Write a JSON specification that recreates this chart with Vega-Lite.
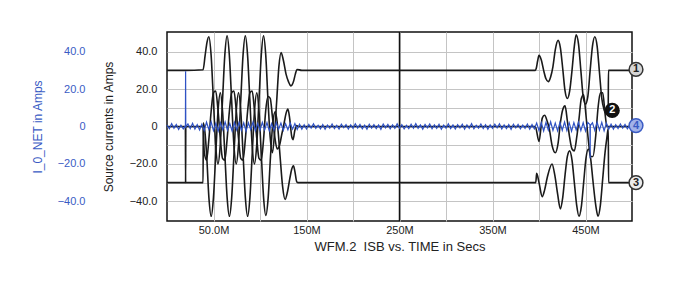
{
  "$schema": "https://vega.github.io/schema/vega-lite/v6.json",
  "width": 465,
  "height": 189,
  "autosize": {"type": "none"},
  "padding": {"left": 167, "top": 32, "right": 68, "bottom": 64},
  "background": "white",
  "config": {
    "view": {"stroke": "#111111", "strokeWidth": 1.5},
    "font": "Liberation Sans"
  },
  "datasets": {
    "vline": [{"t": 250}],
    "src": [
      {"s":"A","t":0,"v":30},{"s":"A","t":19.8,"v":30},{"s":"A","t":38.8,"v":30.3},{"s":"A","t":41,"v":38},{"s":"A","t":43,"v":45},{"s":"A","t":45,"v":48},
      {"s":"A","t":47.45,"v":38},{"s":"A","t":49.9,"v":14},{"s":"A","t":52.35,"v":-10},{"s":"A","t":54.8,"v":-20},{"s":"A","t":57.25,"v":-10},{"s":"A","t":59.7,"v":14},{"s":"A","t":62.15,"v":38},{"s":"A","t":64.6,"v":48.5},
      {"s":"A","t":67.05,"v":38},{"s":"A","t":69.5,"v":14},{"s":"A","t":71.95,"v":-10},{"s":"A","t":74.4,"v":-20},{"s":"A","t":76.85,"v":-10},{"s":"A","t":79.3,"v":14},{"s":"A","t":81.75,"v":38},{"s":"A","t":84.2,"v":48.5},
      {"s":"A","t":86.65,"v":38},{"s":"A","t":89.1,"v":14},{"s":"A","t":91.55,"v":-10},{"s":"A","t":94,"v":-20},{"s":"A","t":96.45,"v":-10},{"s":"A","t":98.9,"v":14},{"s":"A","t":101.35,"v":38},{"s":"A","t":103.8,"v":48.5},
      {"s":"A","t":106.2,"v":38},{"s":"A","t":108.6,"v":14},{"s":"A","t":111,"v":-6},{"s":"A","t":113.3,"v":-14},{"s":"A","t":115.6,"v":-4},{"s":"A","t":118,"v":14},{"s":"A","t":120.3,"v":32},{"s":"A","t":122.7,"v":39.5},
      {"s":"A","t":125.3,"v":35},{"s":"A","t":128,"v":28},{"s":"A","t":130.6,"v":24},{"s":"A","t":133.3,"v":21.7},{"s":"A","t":136,"v":24},{"s":"A","t":138,"v":28},{"s":"A","t":139.7,"v":30.5},{"s":"A","t":145,"v":30},{"s":"A","t":250,"v":30},
      {"s":"A","t":396,"v":30},{"s":"A","t":397,"v":31},{"s":"A","t":398.5,"v":35},{"s":"A","t":400,"v":38},{"s":"A","t":402.5,"v":35.5},{"s":"A","t":405,"v":30},{"s":"A","t":407.5,"v":25.5},{"s":"A","t":410,"v":24},
      {"s":"A","t":412.5,"v":26.5},{"s":"A","t":415,"v":32},{"s":"A","t":417.5,"v":41},{"s":"A","t":420.5,"v":46},{"s":"A","t":423,"v":42},{"s":"A","t":425.5,"v":31},{"s":"A","t":428,"v":19},{"s":"A","t":430.5,"v":15},
      {"s":"A","t":433,"v":19},{"s":"A","t":435.5,"v":30},{"s":"A","t":438,"v":43},{"s":"A","t":440,"v":49},{"s":"A","t":442.5,"v":44},{"s":"A","t":445,"v":30},{"s":"A","t":447.5,"v":16},{"s":"A","t":450,"v":12},
      {"s":"A","t":452.5,"v":16},{"s":"A","t":455,"v":30},{"s":"A","t":457.5,"v":43},{"s":"A","t":460,"v":48},{"s":"A","t":462.5,"v":43},{"s":"A","t":465,"v":29},{"s":"A","t":467.5,"v":15},{"s":"A","t":470,"v":9},
      {"s":"A","t":472.5,"v":7},{"s":"A","t":474.4,"v":8},{"s":"A","t":474.7,"v":30},{"s":"A","t":500,"v":30},

      {"s":"B","t":0,"v":0},{"s":"B","t":19.8,"v":0},{"s":"B","t":20,"v":-30},{"s":"B","t":20.2,"v":0},{"s":"B","t":38.8,"v":0},{"s":"B","t":40.1,"v":-14},{"s":"B","t":42.55,"v":-18},{"s":"B","t":45,"v":-7},
      {"s":"B","t":47.45,"v":8},{"s":"B","t":49.9,"v":18},{"s":"B","t":52.35,"v":19},{"s":"B","t":54.8,"v":9},{"s":"B","t":57.25,"v":-6},{"s":"B","t":59.7,"v":-17},{"s":"B","t":62.15,"v":-18},{"s":"B","t":64.6,"v":-7},
      {"s":"B","t":67.05,"v":8},{"s":"B","t":69.5,"v":18},{"s":"B","t":71.95,"v":19},{"s":"B","t":74.4,"v":9},{"s":"B","t":76.85,"v":-6},{"s":"B","t":79.3,"v":-17},{"s":"B","t":81.75,"v":-18},{"s":"B","t":84.2,"v":-7},
      {"s":"B","t":86.65,"v":8},{"s":"B","t":89.1,"v":18},{"s":"B","t":91.55,"v":19},{"s":"B","t":94,"v":9},{"s":"B","t":96.45,"v":-6},{"s":"B","t":98.9,"v":-17},{"s":"B","t":101.35,"v":-18},{"s":"B","t":103.8,"v":-7},
      {"s":"B","t":106.05,"v":8},{"s":"B","t":108.5,"v":16},{"s":"B","t":111,"v":15},{"s":"B","t":113.4,"v":5},{"s":"B","t":116,"v":-6},{"s":"B","t":118.5,"v":-12},{"s":"B","t":121,"v":-10},{"s":"B","t":123.5,"v":-4},
      {"s":"B","t":126,"v":2},{"s":"B","t":128,"v":7},{"s":"B","t":130,"v":9.3},{"s":"B","t":132,"v":4},{"s":"B","t":134,"v":-5},{"s":"B","t":135.5,"v":-7},{"s":"B","t":137.5,"v":-2},{"s":"B","t":139.5,"v":0.5},{"s":"B","t":141,"v":0},
      {"s":"B","t":396,"v":0},{"s":"B","t":400,"v":-8},{"s":"B","t":403.5,"v":4.5},{"s":"B","t":406,"v":6},{"s":"B","t":409,"v":2.5},{"s":"B","t":411,"v":-1},{"s":"B","t":414,"v":-10},{"s":"B","t":417.5,"v":-14},
      {"s":"B","t":420.5,"v":-9},{"s":"B","t":423,"v":2},{"s":"B","t":425.5,"v":9},{"s":"B","t":428,"v":11},{"s":"B","t":430.5,"v":3},{"s":"B","t":433,"v":-6},{"s":"B","t":435.5,"v":-12},{"s":"B","t":438,"v":-13},
      {"s":"B","t":440.5,"v":-6},{"s":"B","t":443,"v":4},{"s":"B","t":445.5,"v":15},{"s":"B","t":448,"v":17},{"s":"B","t":450.5,"v":6},{"s":"B","t":453,"v":-7},{"s":"B","t":455.5,"v":-16},{"s":"B","t":458,"v":-16},
      {"s":"B","t":461,"v":-5},{"s":"B","t":463.5,"v":10},{"s":"B","t":466,"v":18},{"s":"B","t":468.5,"v":18},{"s":"B","t":471,"v":7},{"s":"B","t":473,"v":0},{"s":"B","t":474.8,"v":0},{"s":"B","t":500,"v":0},

      {"s":"C","t":0,"v":-30},{"s":"C","t":38.8,"v":-30},{"s":"C","t":39,"v":2},{"s":"C","t":40.8,"v":-3},{"s":"C","t":42.6,"v":-15},{"s":"C","t":45.05,"v":-38},{"s":"C","t":47.5,"v":-48},
      {"s":"C","t":49.95,"v":-38},{"s":"C","t":52.4,"v":-15},{"s":"C","t":54.85,"v":8},{"s":"C","t":57.3,"v":18},{"s":"C","t":59.75,"v":8},{"s":"C","t":62.2,"v":-15},{"s":"C","t":64.65,"v":-38},{"s":"C","t":67.1,"v":-48},
      {"s":"C","t":69.55,"v":-38},{"s":"C","t":72,"v":-15},{"s":"C","t":74.45,"v":8},{"s":"C","t":76.9,"v":18},{"s":"C","t":79.35,"v":8},{"s":"C","t":81.8,"v":-15},{"s":"C","t":84.25,"v":-38},{"s":"C","t":86.7,"v":-48},
      {"s":"C","t":89.15,"v":-38},{"s":"C","t":91.6,"v":-15},{"s":"C","t":94.05,"v":8},{"s":"C","t":96.5,"v":18},{"s":"C","t":98.95,"v":8},{"s":"C","t":101.4,"v":-15},{"s":"C","t":103.85,"v":-38},{"s":"C","t":106.3,"v":-47.5},
      {"s":"C","t":108.8,"v":-38},{"s":"C","t":111.3,"v":-16},{"s":"C","t":113.8,"v":2},{"s":"C","t":116.5,"v":8},{"s":"C","t":119,"v":0},{"s":"C","t":121.6,"v":-16},{"s":"C","t":124.3,"v":-32},{"s":"C","t":127,"v":-39},
      {"s":"C","t":129.5,"v":-35},{"s":"C","t":132,"v":-28},{"s":"C","t":134,"v":-23},{"s":"C","t":136,"v":-21},{"s":"C","t":137.5,"v":-24},{"s":"C","t":139.5,"v":-29.5},{"s":"C","t":141,"v":-30},{"s":"C","t":250,"v":-30},
      {"s":"C","t":396.5,"v":-30},{"s":"C","t":397.5,"v":-25},{"s":"C","t":400,"v":-30},{"s":"C","t":403.5,"v":-37.5},{"s":"C","t":406,"v":-34},{"s":"C","t":409,"v":-27},{"s":"C","t":414,"v":-20},{"s":"C","t":417,"v":-26},
      {"s":"C","t":420,"v":-36},{"s":"C","t":423,"v":-44},{"s":"C","t":425.5,"v":-38},{"s":"C","t":428,"v":-26},{"s":"C","t":430.5,"v":-16},{"s":"C","t":433,"v":-13},{"s":"C","t":435.5,"v":-18},{"s":"C","t":438,"v":-30},
      {"s":"C","t":440.5,"v":-42},{"s":"C","t":443,"v":-48},{"s":"C","t":445.5,"v":-43},{"s":"C","t":448,"v":-30},{"s":"C","t":450.5,"v":-17},{"s":"C","t":453,"v":-12},{"s":"C","t":455.5,"v":-17},{"s":"C","t":458,"v":-29},
      {"s":"C","t":461,"v":-42},{"s":"C","t":463.5,"v":-48},{"s":"C","t":466,"v":-42},{"s":"C","t":468.5,"v":-28},{"s":"C","t":471,"v":-14},{"s":"C","t":473,"v":-6},{"s":"C","t":474.5,"v":-1},{"s":"C","t":474.8,"v":-30},{"s":"C","t":500,"v":-30}
    ],
    "net": [
      {"t":0,"v":0.8},{"t":2.5,"v":-1.2},{"t":5,"v":1.5},{"t":7.5,"v":-0.9},{"t":10,"v":1.1},{"t":12.5,"v":-1.6},{"t":15,"v":0.7},{"t":17.5,"v":-1.3},
      {"t":19.8,"v":0.3},{"t":20,"v":29.5},{"t":20.2,"v":-0.2},
      {"t":22.5,"v":1.4},{"t":25,"v":-1.1},{"t":27.5,"v":1.7},{"t":30,"v":-1.4},{"t":32.5,"v":1.0},{"t":35,"v":-1.8},{"t":37.5,"v":1.3},
      {"t":40,"v":-2.1},{"t":42.5,"v":2.3},{"t":45,"v":-1.6},{"t":47.5,"v":2.4},{"t":50,"v":-2.2},{"t":52.5,"v":1.7},{"t":55,"v":-2.4},{"t":57.5,"v":2.0},
      {"t":60,"v":-1.7},{"t":62.5,"v":2.5},{"t":65,"v":-2.0},{"t":67.5,"v":1.6},{"t":70,"v":-2.4},{"t":72.5,"v":2.2},{"t":75,"v":-1.8},{"t":77.5,"v":2.3},
      {"t":80,"v":-2.1},{"t":82.5,"v":1.9},{"t":85,"v":-2.5},{"t":87.5,"v":2.0},{"t":90,"v":-1.6},{"t":92.5,"v":2.4},{"t":95,"v":-2.2},{"t":97.5,"v":1.7},
      {"t":100,"v":-2.0},{"t":102.5,"v":2.2},{"t":105,"v":-1.8},{"t":107.5,"v":2.1},{"t":110,"v":-2.3},{"t":112.5,"v":1.6},{"t":115,"v":-1.9},{"t":117.5,"v":2.2},
      {"t":120,"v":-1.5},{"t":122.5,"v":1.8},{"t":125,"v":-2.1},{"t":127.5,"v":1.5},{"t":130,"v":-1.7},{"t":132.5,"v":1.9},{"t":135,"v":-1.4},{"t":137.5,"v":1.6},
      {"t":140,"v":-1.6},{"t":142.5,"v":1.2},{"t":145,"v":-1.4},{"t":147.5,"v":0.9},{"t":150,"v":-1.3},{"t":152.5,"v":1.1},{"t":155,"v":-0.8},{"t":157.5,"v":1.4},
      {"t":160,"v":-1.0},{"t":162.5,"v":0.7},{"t":165,"v":-1.2},{"t":167.5,"v":1.0},{"t":170,"v":-1.5},{"t":172.5,"v":0.8},{"t":175,"v":-0.9},{"t":177.5,"v":1.3},
      {"t":180,"v":-1.1},{"t":182.5,"v":0.6},{"t":185,"v":-1.4},{"t":187.5,"v":1.2},{"t":190,"v":-0.7},{"t":192.5,"v":1.0},{"t":195,"v":-1.3},{"t":197.5,"v":0.9},
      {"t":200,"v":-1.0},{"t":202.5,"v":1.5},{"t":205,"v":-0.8},{"t":207.5,"v":1.1},{"t":210,"v":-1.2},{"t":212.5,"v":0.7},{"t":215,"v":-1.4},{"t":217.5,"v":1.2},
      {"t":220,"v":-0.9},{"t":222.5,"v":1.0},{"t":225,"v":-1.1},{"t":227.5,"v":0.8},{"t":230,"v":-1.5},{"t":232.5,"v":1.3},{"t":235,"v":-0.7},{"t":237.5,"v":1.1},
      {"t":240,"v":-1.2},{"t":242.5,"v":0.9},{"t":245,"v":-1.0},{"t":247.5,"v":1.4},{"t":250,"v":-0.8},{"t":252.5,"v":1.0},{"t":255,"v":-1.3},{"t":257.5,"v":0.6},
      {"t":260,"v":-1.1},{"t":262.5,"v":1.2},{"t":265,"v":-0.9},{"t":267.5,"v":1.5},{"t":270,"v":-1.0},{"t":272.5,"v":0.8},{"t":275,"v":-1.4},{"t":277.5,"v":1.1},
      {"t":280,"v":-0.7},{"t":282.5,"v":1.3},{"t":285,"v":-1.2},{"t":287.5,"v":0.9},{"t":290,"v":-1.0},{"t":292.5,"v":1.2},{"t":295,"v":-1.5},{"t":297.5,"v":0.7},
      {"t":300,"v":-0.9},{"t":302.5,"v":1.4},{"t":305,"v":-1.1},{"t":307.5,"v":0.8},{"t":310,"v":-1.3},{"t":312.5,"v":1.0},{"t":315,"v":-0.8},{"t":317.5,"v":1.2},
      {"t":320,"v":-1.4},{"t":322.5,"v":0.9},{"t":325,"v":-1.0},{"t":327.5,"v":1.5},{"t":330,"v":-1.2},{"t":332.5,"v":0.7},{"t":335,"v":-0.9},{"t":337.5,"v":1.3},
      {"t":340,"v":-1.1},{"t":342.5,"v":1.0},{"t":345,"v":-1.4},{"t":347.5,"v":0.8},{"t":350,"v":-1.0},{"t":352.5,"v":1.2},{"t":355,"v":-0.7},{"t":357.5,"v":1.4},
      {"t":360,"v":-1.3},{"t":362.5,"v":0.9},{"t":365,"v":-1.1},{"t":367.5,"v":1.0},{"t":370,"v":-1.5},{"t":372.5,"v":1.2},{"t":375,"v":-0.8},{"t":377.5,"v":1.1},
      {"t":380,"v":-1.2},{"t":382.5,"v":0.8},{"t":385,"v":-1.0},{"t":387.5,"v":1.3},{"t":390,"v":-1.4},{"t":392.5,"v":1.0},{"t":395,"v":-1.2},{"t":397.5,"v":1.9},
      {"t":400,"v":-2.2},{"t":402.5,"v":2.0},{"t":405,"v":-2.4},{"t":407.5,"v":2.2},{"t":410,"v":-1.9},{"t":412.5,"v":2.5},{"t":415,"v":-2.1},{"t":417.5,"v":1.8},
      {"t":420,"v":-2.3},{"t":422.5,"v":2.2},{"t":425,"v":-2.0},{"t":427.5,"v":2.4},{"t":430,"v":-2.2},{"t":432.5,"v":1.9},{"t":435,"v":-2.5},{"t":437.5,"v":2.1},
      {"t":440,"v":-1.8},{"t":442.5,"v":2.3},{"t":445,"v":-2.2},{"t":447.5,"v":2.0},{"t":450,"v":-2.4},{"t":452.5,"v":2.2},{"t":454.8,"v":1.0},{"t":455,"v":-17},{"t":455.2,"v":0.5},
      {"t":457.5,"v":2.0},{"t":460,"v":-2.1},{"t":462.5,"v":2.3},{"t":465,"v":-1.9},{"t":467.5,"v":2.2},{"t":470,"v":-2.3},{"t":472.5,"v":1.8},{"t":475,"v":-1.5},
      {"t":477.5,"v":1.2},{"t":480,"v":-1.4},{"t":482.5,"v":1.0},{"t":485,"v":-1.1},{"t":487.5,"v":1.3},{"t":490,"v":-0.9},{"t":492.5,"v":1.1},{"t":495,"v":-1.2},{"t":497.5,"v":0.8},{"t":500,"v":-1.0}
    ],
    "markers": [
      {"n":"1","t":504.3,"v":30.5},
      {"n":"2","t":478.7,"v":8.6},
      {"n":"4","t":504.3,"v":0.5},
      {"n":"3","t":504.3,"v":-30}
    ]
  },
  "resolve": {"axis": {"x": "independent", "y": "independent"}},
  "layer": [
    {
      "data": {"name": "vline"},
      "mark": {"type": "rule", "color": "#111111", "strokeWidth": 1.5},
      "encoding": {
        "x": {
          "field": "t", "type": "quantitative",
          "scale": {"domain": [0, 500], "nice": false, "zero": false},
          "axis": {
            "orient": "bottom",
            "title": "WFM.2\u00a0\u00a0ISB vs. TIME in Secs",
            "values": [50, 100, 150, 200, 250, 300, 350, 400, 450],
            "labelExpr": "datum.value == 50 ? '50.0M' : (datum.value % 100 == 50 ? datum.value + 'M' : '')",
            "grid": true, "gridColor": "#c4c4c4", "gridWidth": 1,
            "ticks": false, "domain": false,
            "labelPadding": 3, "labelFontSize": 11, "labelColor": "#222222", "labelFont": "Liberation Sans",
            "titleFontSize": 13, "titleFontWeight": "normal", "titleColor": "#222222", "titleFont": "Liberation Sans", "titlePadding": 5
          }
        }
      }
    },
    {
      "data": {"name": "src"},
      "mark": {"type": "line", "color": "#1a1a1a", "strokeWidth": 1.6, "interpolate": "monotone"},
      "encoding": {
        "x": {"field": "t", "type": "quantitative", "scale": {"domain": [0, 500], "nice": false, "zero": false}, "axis": null},
        "y": {
          "field": "v", "type": "quantitative",
          "scale": {"domain": [-50.5, 50.5], "nice": false, "zero": false},
          "axis": {
            "orient": "left",
            "title": "Source currents in Amps",
            "values": [-40, -30, -20, -10, 0, 10, 20, 30, 40],
            "labelExpr": "datum.value % 20 == 0 ? (datum.value == 0 ? '0' : format(datum.value, '.1f')) : ''",
            "grid": true, "gridColor": "#c4c4c4", "gridWidth": 1,
            "ticks": false, "domain": false,
            "labelPadding": 10, "labelFontSize": 11, "labelColor": "#222222", "labelFont": "Liberation Sans",
            "titleFontSize": 12, "titleFontWeight": "normal", "titleColor": "#222222", "titleFont": "Liberation Sans", "titlePadding": 14
          }
        },
        "detail": {"field": "s", "type": "nominal"}
      }
    },
    {
      "data": {"name": "net"},
      "mark": {"type": "line", "color": "#2f52c4", "strokeWidth": 1.2},
      "encoding": {
        "x": {"field": "t", "type": "quantitative", "scale": {"domain": [0, 500], "nice": false, "zero": false}, "axis": null},
        "y": {
          "field": "v", "type": "quantitative",
          "scale": {"domain": [-50.5, 50.5], "nice": false, "zero": false},
          "axis": {
            "orient": "left",
            "offset": 72,
            "title": "I_0_NET in Amps",
            "values": [-40, -20, 0, 20, 40],
            "labelExpr": "datum.value == 0 ? '0' : format(datum.value, '.1f')",
            "grid": false, "ticks": false, "domain": false,
            "labelPadding": 10, "labelFontSize": 11, "labelColor": "#3a5bc4", "labelFont": "Liberation Sans",
            "titleFontSize": 12, "titleFontWeight": "normal", "titleColor": "#3a5bc4", "titleFont": "Liberation Sans", "titlePadding": 13
          }
        }
      }
    },
    {
      "data": {"name": "markers"},
      "mark": {"type": "circle", "size": 190, "strokeWidth": 1.5, "opacity": 1, "clip": false},
      "encoding": {
        "x": {"field": "t", "type": "quantitative", "scale": {"domain": [0, 500], "nice": false, "zero": false}, "axis": null},
        "y": {"field": "v", "type": "quantitative", "scale": {"domain": [-50.5, 50.5], "nice": false, "zero": false}, "axis": null},
        "fill": {"field": "n", "type": "nominal", "scale": {"domain": ["1", "2", "3", "4"], "range": ["#d6d6d6", "#111111", "#ececec", "#a3b3e8"]}, "legend": null},
        "stroke": {"field": "n", "type": "nominal", "scale": {"domain": ["1", "2", "3", "4"], "range": ["#333333", "#111111", "#333333", "#3a5bc4"]}, "legend": null}
      }
    },
    {
      "data": {"name": "markers"},
      "mark": {"type": "text", "fontSize": 11, "fontWeight": "bold", "align": "center", "baseline": "middle", "clip": false, "font": "Liberation Sans"},
      "encoding": {
        "x": {"field": "t", "type": "quantitative", "scale": {"domain": [0, 500], "nice": false, "zero": false}, "axis": null},
        "y": {"field": "v", "type": "quantitative", "scale": {"domain": [-50.5, 50.5], "nice": false, "zero": false}, "axis": null},
        "text": {"field": "n", "type": "nominal"},
        "color": {"field": "n", "type": "nominal", "scale": {"domain": ["1", "2", "3", "4"], "range": ["#222222", "#ffffff", "#222222", "#3a5bc4"]}, "legend": null}
      }
    }
  ]
}
